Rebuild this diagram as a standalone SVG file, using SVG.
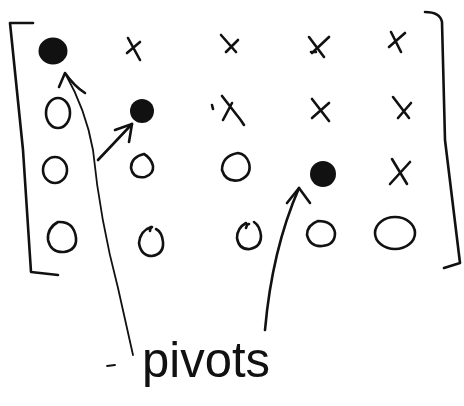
<svg xmlns="http://www.w3.org/2000/svg" width="464" height="406" viewBox="0 0 464 406">
<style>
.ink{fill:none;stroke:#111;stroke-width:2.6;stroke-linecap:round;stroke-linejoin:round}
.thin{fill:none;stroke:#111;stroke-width:1.8;stroke-linecap:round;stroke-linejoin:round}
.dot{fill:#111}
.lbl{font-family:"Liberation Sans","DejaVu Sans",sans-serif;font-size:50px;fill:#111}
</style>
<rect width="464" height="406" fill="#fff"/>
<g id="brackets">
<path class="ink" d="M33,23 L10,23 L23,150 L31,272 L58,275"/>
<path class="ink" d="M425,12 Q440,12 442,22 L445,140 L460,263 L444,268"/>
</g>
<g id="row1">
<ellipse class="dot" cx="53" cy="51" rx="14.5" ry="13.5"/>
<path class="ink" d="M128,38 L140,60 M140,42 L127,53"/>
<path class="ink" d="M221,35 L236,52 M238,40 L226,52"/>
<path class="ink" d="M309,37 L324,57 M329,37 L312,53 M311,52 L316,52"/>
<path class="ink" d="M391,32 L401,52 M405,33 L389,47"/>
</g>
<g id="row2">
<ellipse class="ink" cx="58" cy="113" rx="12" ry="15"/>
<circle class="dot" cx="142" cy="111" r="12"/>
<path class="ink" d="M212,105 L213,109 M222,96 L236,114 Q241,120 244,125 M232,103 L223,120"/>
<path class="ink" d="M312,99 L329,121 M329,103 L312,118"/>
<path class="ink" d="M393,97 L409,118 M411,103 L398,118"/>
</g>
<g id="row3">
<ellipse class="ink" cx="55" cy="170" rx="12" ry="13"/>
<path class="ink" d="M144,154 Q131,157 131,168 Q133,179 145,177 Q154,174 153,166 Q151,158 144,154 Z"/>
<path class="ink" d="M238,153 Q222,156 222,170 Q226,183 240,180 Q252,175 249,163 Q246,154 238,153 Z"/>
<circle class="dot" cx="323" cy="174" r="13"/>
<path class="ink" d="M392,159 L407,184 M410,162 L390,184"/>
</g>
<g id="row4">
<path class="ink" d="M58,222 Q47,228 48,240 Q51,253 64,252 Q77,250 76,238 Q74,221 58,222 Z"/>
<path class="ink" d="M151,227 Q140,231 139,243 Q141,256 152,256 Q164,254 163,242 Q162,232 156,229 M150,231 Q150,228 152,227"/>
<path class="ink" d="M246,223 Q237,228 237,238 Q239,250 250,249 Q261,247 261,236 Q260,226 254,222 M246,228 Q247,224 249,224"/>
<path class="ink" d="M318,221 Q307,225 307,235 Q310,247 322,246 Q335,245 335,233 Q333,221 318,221 Z"/>
<ellipse class="ink" cx="395" cy="233" rx="20" ry="16"/>
</g>
<g id="connectors">
<path class="thin" d="M133,355 L118,288 Q100,220 93,150 Q86,110 65,73"/>
<path class="ink" d="M59,87 L65,73 Q74,86 85,93"/>
<path class="ink" d="M98,160 L132,124"/>
<path class="ink" d="M115,130 L132,124 L129,142"/>
<path class="ink" d="M265,330 Q272,250 299,188"/>
<path class="ink" d="M287,203 L299,188 L310,203"/>
<path class="thin" d="M107,366 L115,365"/>
</g>
<g id="label">
<text class="lbl" x="142" y="377" textLength="128" lengthAdjust="spacingAndGlyphs">pivots</text>
</g>
</svg>
